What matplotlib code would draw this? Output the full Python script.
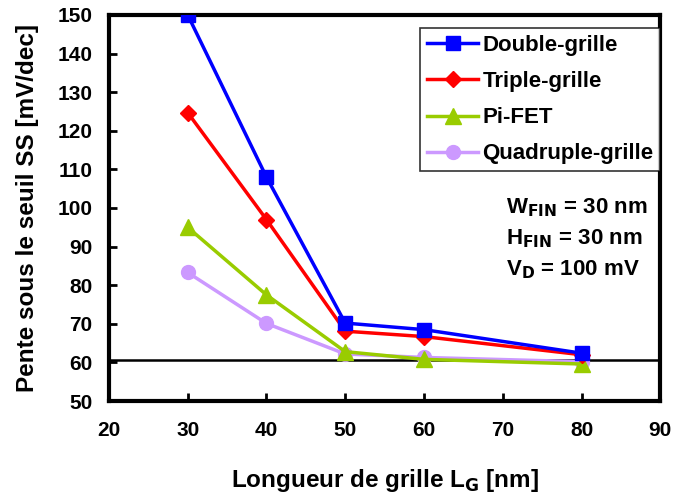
import matplotlib.pyplot as plt

plt.rcParams['font.family'] = ['Liberation Sans', 'DejaVu Sans']
plt.rcParams['font.weight'] = 'bold'

lg = [30, 40, 50, 60, 80]
double_grille = [150, 108, 70.2, 68.5, 62.4]
triple_grille = [124.7, 97, 68.1, 66.7, 62.0]
pi_fet = [95, 77.5, 62.8, 60.8, 59.6]
quadruple_grille = [83.3, 70.1, 62.2, 61.3, 60.2]
ref_line = 60.6

fig = plt.figure(figsize=(6.85, 4.97), dpi=100)
ax = fig.add_axes([0.159, 0.193, 0.805, 0.777])

ax.axhline(ref_line, color='black', lw=1.8, zorder=1)
ax.plot(lg, double_grille, color='#0000ff', marker='s', ms=10, lw=2.5, label='Double-grille', zorder=5)
ax.plot(lg, triple_grille, color='#ff0000', marker='D', ms=8.5, lw=2.5, label='Triple-grille', zorder=4)
ax.plot(lg, pi_fet, color='#99cc00', marker='^', ms=11, lw=2.5, label='Pi-FET', zorder=3)
ax.plot(lg, quadruple_grille, color='#cc99ff', marker='o', ms=10, lw=2.5, label='Quadruple-grille', zorder=2)

ax.set_xlim(20, 90)
ax.set_ylim(50, 150)
ax.set_xticks(range(20, 91, 10))
ax.set_yticks(range(50, 151, 10))
ax.tick_params(direction='in', length=6, width=2, labelsize=15)
ax.tick_params(axis='x', pad=14)
ax.tick_params(axis='y', pad=12)
for s in ax.spines.values():
    s.set_linewidth(3)

ax.set_xlabel('Longueur de grille L$_\\mathbf{G}$ [nm]', fontsize=17.5, fontweight='bold', labelpad=20)
ax.set_ylabel('Pente sous le seuil SS [mV/dec]', fontsize=17.5, fontweight='bold', labelpad=13)

leg = ax.legend(loc='upper right', bbox_to_anchor=(1.0, 0.965), fontsize=16, frameon=True,
                fancybox=False, handlelength=2.3, borderpad=0.3, labelspacing=0.68,
                handletextpad=0.2, borderaxespad=0.0)
leg.get_frame().set_edgecolor('black')
leg.get_frame().set_linewidth(1.2)

ax.text(0.72, 0.42, 'W$_\\mathbf{FIN}$ = 30 nm\nH$_\\mathbf{FIN}$ = 30 nm\nV$_\\mathbf{D}$ = 100 mV',
        transform=ax.transAxes, fontsize=16, fontweight='bold', va='center', ha='left',
        linespacing=1.5)

fig.savefig('out.png', dpi=100)
